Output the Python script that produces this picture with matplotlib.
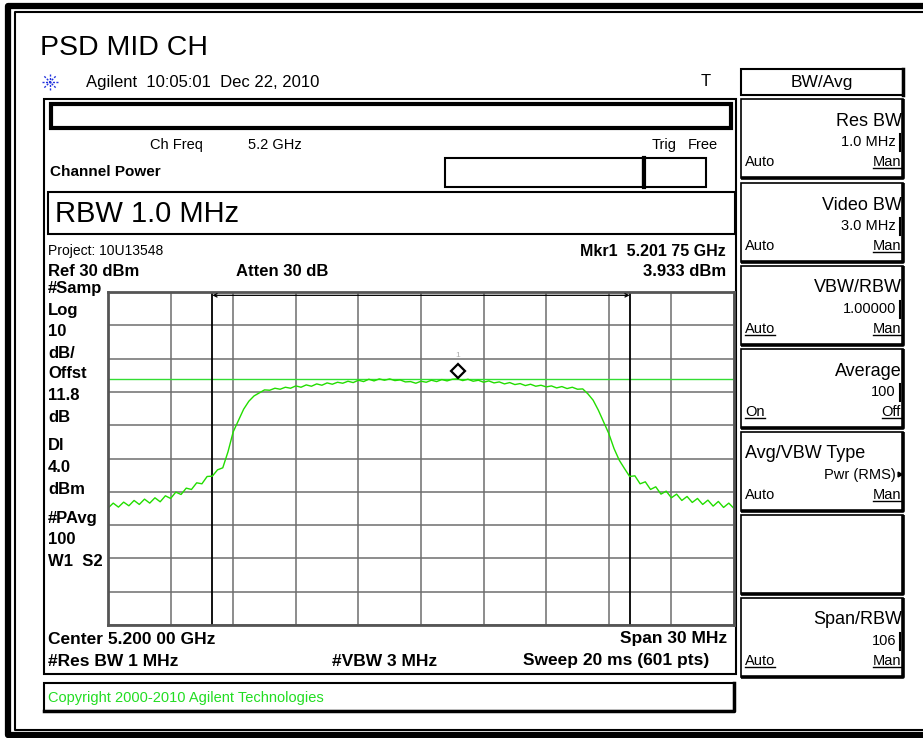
import numpy as np
import matplotlib
matplotlib.use("Agg")
import matplotlib.pyplot as plt
from matplotlib.patches import Rectangle
from matplotlib.transforms import offset_copy

plt.rcParams['font.family'] = ['Liberation Sans', 'DejaVu Sans']

# trace (offset from centre in MHz, level in dBm)
freq_mhz = np.arange(-15, 15.01, 0.25)
level_dbm = [
    -34.9, -33.4, -34.6, -33.1, -34.2, -32.6, -33.8, -32.2, -33.4, -31.8,
    -33.0, -31.2, -32.0, -30.1, -30.8, -28.9, -29.3, -27.3, -27.6, -25.4,
    -25.3, -23.4, -22.8, -18.0, -12.0, -8.6, -5.2, -2.8, -1.2, -0.3,
    0.6, 0.5, 1.1, 0.8, 1.4, 1.1, 1.8, 1.4, 2.1, 1.7,
    2.4, 2.0, 2.7, 2.3, 2.9, 2.6, 3.2, 2.8, 3.5, 3.1,
    3.8, 3.3, 3.9, 3.5, 3.9, 3.4, 3.6, 3.0, 3.1, 2.6,
    3.2, 2.9, 3.5, 3.1, 3.7, 3.3, 3.8, 3.93, 3.4, 3.8,
    3.2, 3.5, 2.9, 3.3, 2.7, 3.0, 2.4, 2.8, 2.2, 2.5,
    1.9, 2.3, 1.7, 2.0, 1.5, 1.8, 1.2, 1.6, 1.0, 1.4,
    0.8, 0.9, -0.6, -2.5, -5.5, -9.0, -12.5, -17.0, -20.5, -23.0,
    -25.4, -25.2, -27.6, -27.0, -29.3, -28.5, -30.7, -29.8, -31.8, -30.7,
    -32.6, -31.4, -33.2, -32.0, -33.8, -32.5, -34.3, -32.9, -34.7, -33.4,
    -35.0,
]
ref_level = 30
db_per_div = 10
span_mhz = 30
display_line = 4.0
chan_edges = [-10, 10]
mkr_f = 1.75
mkr_dbm = 3.933

left_labels = ['#Samp', 'Log', '10', 'dB/', 'Offst', '11.8', 'dB',
               'Dl', '4.0', 'dBm', '#PAvg', '100', 'W1  S2']
left_label_y = [289, 310, 331, 353, 374, 396, 417, 446, 468, 489, 518, 540, 561]

menu_tops = [99, 183, 266, 349, 432, 515, 598]
menu_title = ['Res BW', 'Video BW', 'VBW/RBW', 'Average', 'Avg/VBW Type', '', 'Span/RBW']
menu_value = ['1.0 MHz', '3.0 MHz', '1.00000', '100', 'Pwr (RMS)', '', '106']
menu_left = ['Auto', 'Auto', 'Auto', 'On', 'Auto', '', 'Auto']
menu_right = ['Man', 'Man', 'Man', 'Off', 'Man', '', 'Man']
left_ul = [False, False, True, True, False, False, True]
right_ul = [True, True, True, True, True, False, True]

W, H = 923, 738
fig = plt.figure(figsize=(W / 100, H / 100), dpi=100)
ui = fig.add_axes([0, 0, 1, 1])
ui.set_xlim(0, W)
ui.set_ylim(H, 0)
ui.axis('off')


def box(x0, y0, x1, y1, lw=1.2, color='black'):
    ui.add_patch(Rectangle((x0, y0), x1 - x0, y1 - y0, fill=False,
                           lw=lw, ec=color))


def bevel(x0, y0, x1, y1):
    box(x0, y0, x1, y1, lw=1.2)
    ui.plot([x1, x1, x0], [y0, y1, y1], color='black', lw=2.6,
            solid_capstyle='butt')


# outer frame
ui.plot([923, 8, 8, 923], [6, 6, 735, 735], color='black', lw=4.5)
ui.plot([923, 14.5, 14.5, 923], [12, 12, 730, 730], color='black', lw=1.5)

ui.text(40, 48, 'PSD MID CH', fontsize=20.5, va='center')
# agilent spark
for a in np.linspace(0, np.pi, 4, endpoint=False):
    dx, dy = 8 * np.cos(a), 8 * np.sin(a)
    ui.plot([50 - dx, 50 + dx], [82 - dy, 82 + dy], color='#2233dd',
            lw=1, ls=(0, (1.5, 1)))
ui.text(86, 82, 'Agilent  10:05:01  Dec 22, 2010', fontsize=12, va='center')
ui.text(706, 82, 'T', fontsize=12, va='center', ha='center')

# header of the main panel
box(44, 99, 736, 674, lw=1.5)
box(51, 104, 731, 128, lw=3)
ui.text(150, 145, 'Ch Freq', fontsize=10.5, va='center')
ui.text(248, 145, '5.2 GHz', fontsize=10.5, va='center')
ui.text(652, 145, 'Trig', fontsize=10.5, va='center')
ui.text(688, 145, 'Free', fontsize=10.5, va='center')
ui.text(50, 172, 'Channel Power', fontsize=11, fontweight='bold', va='center')
box(445, 158, 643, 187, lw=1.5)
box(643, 158, 706, 187, lw=1.5)
ui.plot([644, 644], [158, 187], color='black', lw=3)
box(48, 192, 735, 234, lw=1.5)
ui.text(55, 214, 'RBW 1.0 MHz', fontsize=21, va='center')
ui.text(48, 251, 'Project: 10U13548', fontsize=10, va='center')
ui.text(726, 251, 'Mkr1  5.201 75 GHz', fontsize=11.5, fontweight='bold',
        va='center', ha='right')
ui.text(48, 271, 'Ref 30 dBm', fontsize=12, fontweight='bold', va='center')
ui.text(236, 271, 'Atten 30 dB', fontsize=12, fontweight='bold', va='center')
ui.text(726, 271, '3.933 dBm', fontsize=12, fontweight='bold',
        va='center', ha='right')
for lab, yy in zip(left_labels, left_label_y):
    ui.text(48, yy, lab, fontsize=12, fontweight='bold', va='center')
ui.text(48, 639, 'Center 5.200 00 GHz', fontsize=12.5, fontweight='bold', va='center')
ui.text(727, 639, 'Span 30 MHz', fontsize=12.5, fontweight='bold',
        va='center', ha='right')
ui.text(48, 661, '#Res BW 1 MHz', fontsize=12.5, fontweight='bold', va='center')
ui.text(332, 661, '#VBW 3 MHz', fontsize=12.5, fontweight='bold', va='center')
ui.text(709, 661, 'Sweep 20 ms (601 pts)', fontsize=12.5, fontweight='bold',
        va='center', ha='right')

box(44, 683, 734, 711, lw=1.5)
ui.plot([734, 734, 44], [683, 711, 711], color='black', lw=2.5)
ui.text(48, 698, 'Copyright 2000-2010 Agilent Technologies', fontsize=10.5,
        color='#22dd22', va='center')

# softkey menu
box(741, 69, 903, 95, lw=1.5)
ui.plot([903, 903], [69, 95], color='black', lw=2.5)
ui.text(822, 82, 'BW/Avg', fontsize=12.5, va='center', ha='center')
underline = []
for i, top in enumerate(menu_tops):
    bevel(741, top, 903, top + 79)
    if menu_title[i]:
        if i == 4:
            ui.text(745, top + 22, menu_title[i], fontsize=13, va='center')
        else:
            ui.text(902, top + 22, menu_title[i], fontsize=13, va='center',
                    ha='right')
        ui.text(896, top + 43, menu_value[i], fontsize=10.5, va='center',
                ha='right')
        if i == 4:
            ui.plot([899], [top + 42], marker=(3, 0, 30), ms=4, color='black')
        else:
            ui.plot([899.5, 899.5], [top + 35, top + 52], color='black', lw=1.5)
        t1 = ui.text(745, top + 63, menu_left[i], fontsize=10.5, va='center')
        t2 = ui.text(901, top + 63, menu_right[i], fontsize=10.5, va='center',
                     ha='right')
        if left_ul[i]:
            underline.append(t1)
        if right_ul[i]:
            underline.append(t2)

# spectrum plot
x0, x1, y0, y1 = 108, 734, 292, 625
ax = fig.add_axes([x0 / W, 1 - y1 / H, (x1 - x0) / W, (y1 - y0) / H])
ax.set_xlim(-span_mhz / 2, span_mhz / 2)
ax.set_ylim(ref_level - 10 * db_per_div, ref_level)
ax.set_xticks(np.linspace(-span_mhz / 2, span_mhz / 2, 11))
ax.set_yticks(np.arange(ref_level - 10 * db_per_div, ref_level + 1, db_per_div))
ax.tick_params(length=0, labelbottom=False, labelleft=False)
ax.grid(True, color='#6e6e6e', lw=1.1)
for s in ax.spines.values():
    s.set_color('#555555')
    s.set_linewidth(2)

ax.axhline(display_line, color='#33dd33', lw=1)
for fe in chan_edges:
    ax.axvline(fe, color='black', lw=1.3)
ax.annotate('', xy=(chan_edges[0], 29.0), xytext=(chan_edges[1], 29.0),
            arrowprops=dict(arrowstyle='<->', lw=0.9, color='black',
                            mutation_scale=6, shrinkA=0, shrinkB=0))
ax.plot(freq_mhz, level_dbm, color='#22dd00', lw=1)
mk = offset_copy(ax.transData, fig=fig, y=8, units='dots')
ax.plot([mkr_f], [mkr_dbm], marker='D', ms=7, mfc='white', mec='black',
        mew=1.6, transform=mk, clip_on=False)
lb = offset_copy(ax.transData, fig=fig, y=23, units='dots')
ax.text(mkr_f, mkr_dbm, '1', transform=lb, fontsize=6, color='#aaaaaa',
        ha='center', va='center')

# underlines for the active softkey choices
fig.canvas.draw()
inv = ui.transData.inverted()
for t in underline:
    bb = t.get_window_extent()
    (ax_, ay_), (bx_, by_) = inv.transform([[bb.x0, bb.y0], [bb.x1, bb.y1]])
    ui.plot([ax_, bx_], [ay_ - 1, ay_ - 1], color='black', lw=1)

fig.savefig('out.png', dpi=100)
